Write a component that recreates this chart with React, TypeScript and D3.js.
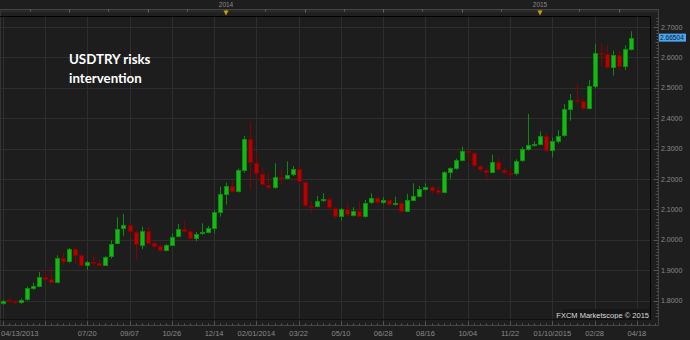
import React from "react";
import * as d3 from "d3";

const W = 690;
const H = 340;

// Weekly OHLC, week of 04/13/2013 .. 04/11/2015
const opens = [
  1.790, 1.802, 1.800, 1.793, 1.802, 1.839, 1.846, 1.877, 1.870, 1.859,
  1.940, 1.927, 1.969, 1.949, 1.914, 1.926, 1.925, 1.915, 1.942, 1.987,
  2.034, 2.048, 2.026, 1.981, 2.030, 1.988, 1.981, 1.963, 1.981, 2.009,
  2.034, 2.029, 2.003, 2.018, 2.024, 2.036, 2.089, 2.149, 2.177, 2.157,
  2.227, 2.333, 2.253, 2.217, 2.181, 2.169, 2.207, 2.200, 2.213, 2.232,
  2.190, 2.111, 2.109, 2.126, 2.133, 2.105, 2.076, 2.100, 2.078, 2.096,
  2.074, 2.120, 2.138, 2.120, 2.131, 2.116, 2.120, 2.093, 2.129, 2.142,
  2.164, 2.174, 2.164, 2.155, 2.221, 2.234, 2.260, 2.293, 2.285, 2.243,
  2.231, 2.221, 2.256, 2.230, 2.221, 2.217, 2.258, 2.296, 2.309, 2.313,
  2.341, 2.293, 2.322, 2.341, 2.427, 2.460, 2.456, 2.431, 2.504, 2.613,
  2.611, 2.566, 2.609, 2.570, 2.624,
];
const highs = [
  1.803, 1.809, 1.803, 1.807, 1.846, 1.859, 1.894, 1.907, 1.910, 1.949,
  1.960, 1.973, 1.975, 1.953, 1.931, 1.951, 1.934, 1.946, 1.998, 2.074,
  2.085, 2.054, 2.032, 2.043, 2.043, 1.997, 1.988, 1.986, 2.021, 2.052,
  2.061, 2.034, 2.026, 2.054, 2.045, 2.098, 2.175, 2.188, 2.195, 2.235,
  2.342, 2.388, 2.284, 2.235, 2.219, 2.252, 2.232, 2.258, 2.243, 2.241,
  2.190, 2.127, 2.144, 2.153, 2.140, 2.107, 2.105, 2.120, 2.107, 2.127,
  2.131, 2.153, 2.142, 2.140, 2.135, 2.142, 2.124, 2.151, 2.186, 2.177,
  2.186, 2.179, 2.175, 2.225, 2.238, 2.267, 2.306, 2.296, 2.287, 2.246,
  2.238, 2.280, 2.269, 2.238, 2.236, 2.265, 2.306, 2.414, 2.324, 2.357,
  2.352, 2.337, 2.361, 2.447, 2.480, 2.513, 2.464, 2.526, 2.644, 2.646,
  2.640, 2.622, 2.622, 2.640, 2.686,
];
const lows = [
  1.786, 1.796, 1.787, 1.789, 1.800, 1.835, 1.844, 1.868, 1.855, 1.857,
  1.918, 1.923, 1.923, 1.912, 1.901, 1.916, 1.914, 1.914, 1.938, 1.985,
  2.013, 2.005, 1.934, 1.969, 1.984, 1.973, 1.962, 1.962, 1.980, 2.008,
  2.025, 2.002, 1.995, 2.016, 2.021, 2.021, 2.076, 2.116, 2.155, 2.155,
  2.221, 2.164, 2.197, 2.178, 2.167, 2.167, 2.180, 2.199, 2.210, 2.186,
  2.109, 2.089, 2.107, 2.124, 2.100, 2.070, 2.063, 2.076, 2.076, 2.072,
  2.072, 2.118, 2.118, 2.118, 2.113, 2.113, 2.089, 2.091, 2.127, 2.140,
  2.162, 2.153, 2.147, 2.153, 2.201, 2.230, 2.258, 2.252, 2.241, 2.225,
  2.192, 2.219, 2.225, 2.217, 2.203, 2.212, 2.256, 2.293, 2.306, 2.311,
  2.289, 2.271, 2.317, 2.339, 2.392, 2.451, 2.429, 2.429, 2.499, 2.570,
  2.564, 2.540, 2.559, 2.559, 2.622,
];
const closes = [
  1.800, 1.798, 1.793, 1.802, 1.842, 1.848, 1.877, 1.869, 1.859, 1.939,
  1.927, 1.969, 1.947, 1.914, 1.926, 1.924, 1.915, 1.943, 1.987, 2.035,
  2.048, 2.027, 1.982, 2.030, 1.986, 1.976, 1.963, 1.983, 2.010, 2.034,
  2.026, 2.003, 2.019, 2.026, 2.038, 2.091, 2.151, 2.177, 2.157, 2.229,
  2.333, 2.252, 2.217, 2.180, 2.169, 2.207, 2.200, 2.213, 2.232, 2.190,
  2.111, 2.109, 2.128, 2.134, 2.104, 2.076, 2.100, 2.080, 2.096, 2.074,
  2.122, 2.138, 2.120, 2.131, 2.116, 2.122, 2.093, 2.131, 2.144, 2.166,
  2.174, 2.162, 2.155, 2.223, 2.236, 2.263, 2.293, 2.285, 2.243, 2.228,
  2.221, 2.256, 2.228, 2.219, 2.217, 2.260, 2.298, 2.311, 2.315, 2.341,
  2.293, 2.324, 2.341, 2.429, 2.460, 2.453, 2.431, 2.506, 2.613, 2.609,
  2.566, 2.609, 2.570, 2.627, 2.66504,
];

const weekDates = d3.utcSaturday.range(
  new Date(Date.UTC(2013, 3, 13)),
  new Date(Date.UTC(2015, 3, 12))
);

const gridDates = [
  "2013-04-13", "2013-06-01", "2013-07-20", "2013-09-07", "2013-10-26", "2013-12-14",
  "2014-02-01", "2014-03-22", "2014-05-10", "2014-06-28", "2014-08-16",
  "2014-10-04", "2014-11-22", "2015-01-10", "2015-02-28", "2015-04-18",
];
const xTickDates = [
  "2013-04-13", "2013-07-20", "2013-09-07", "2013-10-26", "2013-12-14",
  "2014-02-01", "2014-03-22", "2014-05-10", "2014-06-28", "2014-08-16",
  "2014-10-04", "2014-11-22", "2015-01-10", "2015-02-28", "2015-04-18",
];
const xTickLabels = [
  "04/13/2013", "07/20", "09/07", "10/26", "12/14", "02/01/2014", "03/22",
  "05/10", "06/28", "08/16", "10/04", "11/22", "01/10/2015", "02/28", "04/18",
];
const yTicks = [1.8, 1.9, 2.0, 2.1, 2.2, 2.3, 2.4, 2.5, 2.6, 2.7];
const yearLabels = ["2014", "2015"];
const yearMarkDates = ["2013-12-28", "2014-12-27"];
const titleLines = ["USDTRY risks", "intervention"];
const watermark = "FXCM Marketscope \u00a9 2015";

export default function App() {
  const plotL = 0, plotR = 650.5, plotT = 16.5, plotB = 319.5;
  const frameR = 658.5, frameT = 9.5, frameB = 325.5;

  const x = d3
    .scaleUtc()
    .domain([new Date(Date.UTC(2013, 3, 13)), new Date(Date.UTC(2015, 3, 18))])
    .range([2.7, 636.9]);
  const y = d3.scaleLinear().domain([1.8, 2.7]).range([300.6, 27]);

  const parse = (s: string) => new Date(s + "T00:00:00Z");
  const fmt = d3.format(".4f");
  const green = "#16b816";
  const greenEdge = "#0c8c0c";
  const red = "#b00404";
  const redEdge = "#860000";
  const grid = "#2e2e2e";
  const frame = "#444";
  const label = "#8a8a8a";
  const axisFont = "'Liberation Sans', Arial, sans-serif";

  const candles = weekDates.map((d, i) => ({
    d, o: opens[i], h: highs[i], l: lows[i], c: closes[i],
  }));

  const yMinor = d3.range(174, 277).map((v) => v / 100);
  const weekTicks = d3.utcSaturday.range(
    new Date(Date.UTC(2013, 3, 13)),
    new Date(Date.UTC(2015, 4, 10))
  );

  const xm = yearMarkDates.map((s) => Math.round(x(parse(s))));
  const step = (xm[1] - xm[0]) / 8;
  const topTicks = d3.range(-6, 12).map((n) => ({ x: xm[0] + n * step, big: n % 2 === 0 }))
    .filter((t) => t.x > 0 && t.x < frameR);

  const last = closes[closes.length - 1];
  const ly = y(last);

  return (
    <svg width={W} height={H} style={{ position: "absolute", left: 0, top: 0, display: "block" }}>
      <rect x={0} y={0} width={W} height={H} fill="#1e1e1e" />
      {/* top strip */}
      <rect x={0} y={frameT} width={frameR} height={plotT - frameT} fill="#202020" />
      <rect x={0} y={frameT} width={frameR} height={3} fill="#292929" />
      <line x1={0} x2={frameR} y1={frameT} y2={frameT} stroke={frame} />
      <line x1={0.5} x2={0.5} y1={frameT} y2={frameB} stroke="#333" />
      {topTicks.map((t, i) => (
        <line key={"tt" + i} x1={Math.round(t.x) + 0.5} x2={Math.round(t.x) + 0.5}
          y1={frameT} y2={frameT + (t.big ? 3 : 2)} stroke="#666" />
      ))}
      {yearLabels.map((lab, i) => (
        <g key={"yr" + i}>
          <text x={xm[i]} y={7} fill="#8a8a8a" fontSize={6.5} fontFamily={axisFont} textAnchor="middle">{lab}</text>
          <path d={`M${xm[i] - 2.5},${10.5} L${xm[i] + 2.5},${10.5} L${xm[i]},${15.5} Z`} fill="#c89b0a" />
        </g>
      ))}
      {/* plot background */}
      <rect x={plotL + 1} y={plotT} width={plotR - plotL - 1} height={plotB - plotT} fill="#1d1d1d" />
      {/* grid */}
      {yTicks.map((v) => (
        <line key={"gy" + v} x1={plotL} x2={plotR} y1={Math.round(y(v)) + 0.5} y2={Math.round(y(v)) + 0.5} stroke={grid} />
      ))}
      {gridDates.map((s) => {
        const xx = Math.round(x(parse(s))) + 0.5;
        return xx < plotR ? (
          <line key={"gx" + s} x1={xx} x2={xx} y1={plotT} y2={frameB} stroke={grid} />
        ) : null;
      })}
      {/* candles */}
      {candles.map((k, i) => {
        const cx = Math.round(x(k.d));
        const up = k.c >= k.o;
        const col = up ? green : red;
        const edge = up ? greenEdge : redEdge;
        const top = Math.round(Math.min(y(k.o), y(k.c)));
        const bot = Math.round(Math.max(y(k.o), y(k.c)));
        const h = Math.max(2, bot - top);
        return (
          <g key={"c" + i}>
            <line x1={cx + 0.5} x2={cx + 0.5} y1={y(k.h)} y2={y(k.l)} stroke={edge} strokeWidth={1} />
            <rect x={cx - 2} y={top} width={5} height={h} fill={edge} />
            {h > 2 ? <rect x={cx - 1} y={top + 1} width={3} height={h - 2} fill={col} /> : null}
          </g>
        );
      })}
      {/* title */}
      {titleLines.map((t, i) => (
        <text key={"t" + i} x={69} y={64 + i * 19} fill="#ffffff" fontSize={13.3} fontWeight="bold"
          fontFamily="Lato, 'Open Sans', sans-serif">{t}</text>
      ))}
      {/* watermark */}
      <rect x={563} y={309} width={87} height={10} fill="#161616" />
      <text x={649} y={317.5} fill="#dcdcdc" fontSize={7.5} fontFamily={axisFont} textAnchor="end">{watermark}</text>
      {/* plot border */}
      <line x1={plotL} x2={plotR} y1={plotT} y2={plotT} stroke="#000" />
      <line x1={plotR} x2={plotR} y1={plotT} y2={plotB} stroke="#000" />
      <line x1={plotL} x2={plotR} y1={plotB} y2={plotB} stroke="#111" />
      {/* bottom axis strip */}
      <line x1={0} x2={frameR} y1={frameB} y2={frameB} stroke={frame} />
      {weekTicks.map((d, i) => {
        const xx = Math.round(x(d)) + 0.5;
        return xx < frameR - 2 ? (
          <line key={"wt" + i} x1={xx} x2={xx} y1={frameB} y2={frameB - (i % 7 === 0 ? 4 : 2)} stroke="#555" />
        ) : null;
      })}
      {xTickDates.map((s, i) => {
        const xx = x(parse(s));
        return (
          <text key={"xl" + s} x={i === 0 ? 1 : xx} y={336} fill={label} fontSize={7.5}
            fontFamily={axisFont} textAnchor={i === 0 ? "start" : "middle"}>{xTickLabels[i]}</text>
        );
      })}
      {/* right axis */}
      <line x1={frameR} x2={frameR} y1={frameT} y2={frameB} stroke={frame} />
      {yMinor.map((v, i) => {
        const yy = Math.round(y(v)) + 0.5;
        const major = Math.round(v * 100) % 10 === 0;
        const mid = Math.round(v * 100) % 5 === 0;
        return yy > plotT && yy < plotB ? (
          <line key={"ym" + i} x1={frameR} x2={frameR - (major ? 5 : mid ? 3 : 2)} y1={yy} y2={yy} stroke="#555" />
        ) : null;
      })}
      {yTicks.map((v) => (
        <text key={"yl" + v} x={661} y={y(v) + 2.5} fill={label} fontSize={7} fontFamily={axisFont}>{fmt(v)}</text>
      ))}
      <rect x={659} y={ly - 4} width={27} height={8} fill="#4aa6f0" />
      <text x={660} y={ly + 2.5} fill="#0a1a2a" fontSize={6.6} fontFamily={axisFont}>{d3.format(".5f")(last)}</text>
    </svg>
  );
}
